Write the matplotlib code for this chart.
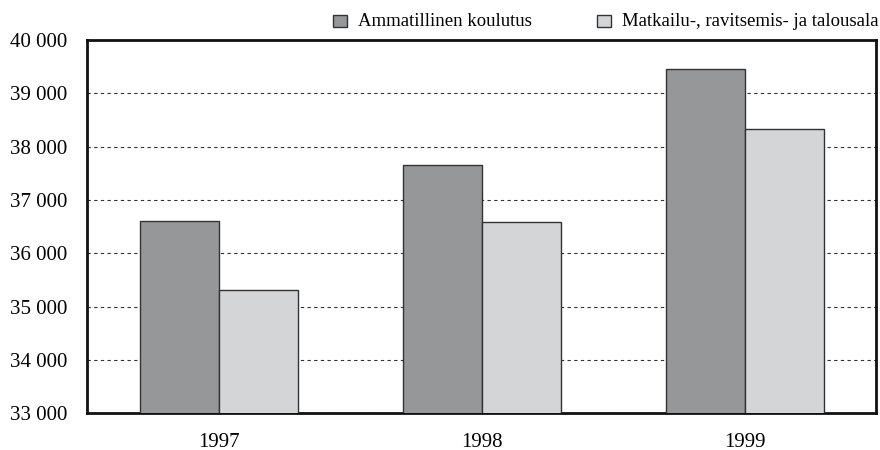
import numpy as np
import matplotlib.pyplot as plt
from matplotlib.ticker import MultipleLocator, FuncFormatter
from matplotlib.patches import Rectangle

plt.rcParams['font.family'] = ['Liberation Serif', 'DejaVu Serif']

years = ["1997", "1998", "1999"]
ammatillinen = [36600, 37650, 39450]
matkailu = [35310, 36580, 38340]
series_names = ["Ammatillinen koulutus", "Matkailu-, ravitsemis- ja talousala"]
dark = "#969798"
light = "#d4d5d7"

W, H = 880, 450
fig = plt.figure(figsize=(W / 100, H / 100), dpi=100)
ax = fig.add_axes([0.099, 0.082, 0.897, 0.829])

x = np.arange(len(years))
w = 0.30
ax.bar(x - w/2, ammatillinen, w, color=dark, edgecolor="#333333", linewidth=1.0, zorder=3)
ax.bar(x + w/2, matkailu, w, color=light, edgecolor="#333333", linewidth=1.0, zorder=3)

ax.set_xlim(-0.5, 2.5)
ax.set_ylim(33000, 40000)
ax.yaxis.set_major_locator(MultipleLocator(1000))
ax.yaxis.set_major_formatter(FuncFormatter(lambda v, p: f"{int(v):,}".replace(",", " ")))
ax.set_xticks(x)
ax.set_xticklabels(years)
ax.tick_params(axis="both", length=0, labelsize=15)
ax.tick_params(axis="x", pad=14)
ax.tick_params(axis="y", pad=14)
ax.grid(axis="y", linestyle=(0, (3, 3)), color="#333333", linewidth=0.8, zorder=0)
for s in ax.spines.values():
    s.set_linewidth(2)
    s.set_color("#111111")

# legend drawn by hand at the top
legend_x = [333, 597]
for lx, name, c in zip(legend_x, series_names, (dark, light)):
    fig.add_artist(Rectangle((lx / W, 1 - 27 / H), 14 / W, 12 / H, transform=fig.transFigure,
                             facecolor=c, edgecolor="#333333", linewidth=1))
    fig.text((lx + 25) / W, 1 - 21 / H, name, fontsize=13.5, va="center", ha="left")

fig.savefig("out.png", dpi=100)
